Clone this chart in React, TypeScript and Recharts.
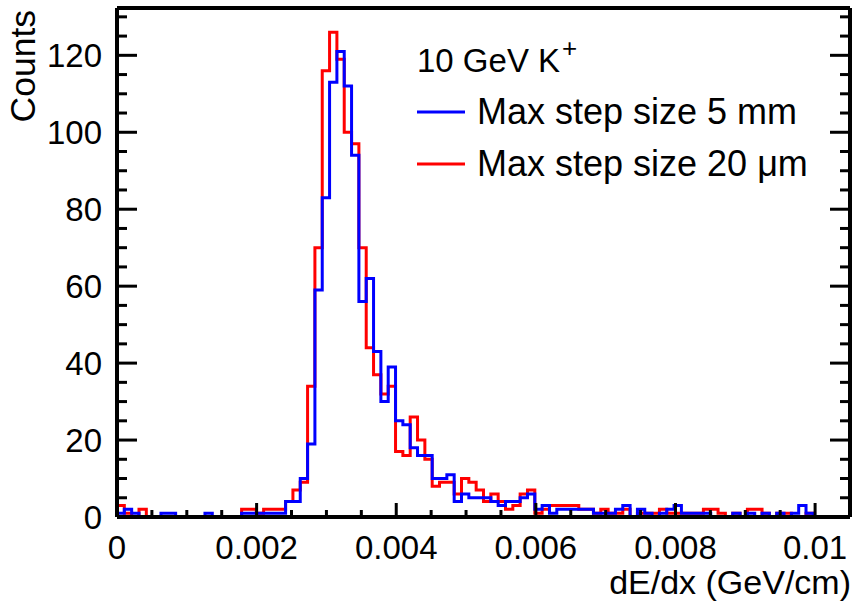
import { LineChart, Line, XAxis, YAxis } from "recharts";

const FONT = "'Liberation Sans', Arial, Helvetica, sans-serif";

// 100 bins of 0.000105 GeV/cm between 0 and 0.0105
const BIN_WIDTH = 0.000105;
const X_MAX = 0.0105;
const Y_MAX = 132.3;

const blueCounts = [
  1, 2, 1, 0, 0, 0, 1, 1, 0, 0,
  0, 0, 1, 0, 0, 0, 0, 1, 1, 1,
  1, 1, 1, 4, 4, 10, 19, 59, 83, 113,
  121, 112, 94, 56, 62, 43, 30, 39, 25, 24,
  18, 16, 16, 10, 10, 11, 4, 6, 5, 5,
  5, 4, 3, 4, 4, 5, 6, 2, 3, 1,
  2, 2, 2, 2, 2, 1, 1, 1, 2, 3,
  0, 2, 1, 0, 1, 2, 3, 1, 1, 1,
  1, 0, 0, 0, 1, 0, 1, 0, 1, 0,
  1, 0, 1, 3, 1, 0, 0, 0, 0, 0,
];

const redCounts = [
  3, 1, 0, 2, 0, 0, 0, 0, 0, 0,
  0, 0, 0, 0, 0, 0, 0, 2, 2, 1,
  2, 2, 2, 4, 7, 9, 34, 70, 116, 126,
  119, 100, 97, 70, 44, 37, 32, 34, 17, 16,
  26, 20, 15, 8, 9, 9, 6, 10, 9, 7,
  4, 6, 4, 2, 3, 6, 7, 1, 2, 3,
  3, 3, 3, 2, 2, 1, 2, 1, 1, 2,
  0, 1, 1, 1, 2, 1, 1, 1, 1, 1,
  2, 2, 1, 0, 1, 0, 2, 2, 1, 0,
  1, 1, 0, 0, 1, 0, 0, 0, 0, 0,
];

const xMajorTicks = [0, 0.002, 0.004, 0.006, 0.008, 0.01];
const xTickLabels = ["0", "0.002", "0.004", "0.006", "0.008", "0.01"];
const yMajorTicks = [0, 20, 40, 60, 80, 100, 120];
const yTickLabels = ["0", "20", "40", "60", "80", "100", "120"];

const xAllTicks = Array.from({ length: 21 }, (_, i) => +(i * 0.0005).toFixed(4));
const yAllTicks = Array.from({ length: 27 }, (_, i) => i * 5);

// step points at the lower edge of each bin, plus the closing edge
const data = blueCounts.map((b, i) => ({
  x: +(i * BIN_WIDTH).toFixed(6),
  blue: b,
  red: redCounts[i],
}));
data.push({ x: X_MAX, blue: blueCounts[99], red: redCounts[99] });

const majorIndex = (list: number[], v: number) =>
  list.findIndex((t) => Math.abs(t - v) < 1e-9);

function BottomTick({ x, y, payload }: any) {
  const i = majorIndex(xMajorTicks, payload.value);
  return (
    <g>
      <line x1={x} x2={x} y1={y} y2={y - (i >= 0 ? 14 : 7)} stroke="#000" strokeWidth={3} />
      {i >= 0 && (
        <text x={x} y={y + 42} textAnchor="middle" fontFamily={FONT} fontSize={33} fill="#000">
          {xTickLabels[i]}
        </text>
      )}
    </g>
  );
}

function TopTick({ x, y, payload }: any) {
  const i = majorIndex(xMajorTicks, payload.value);
  return <line x1={x} x2={x} y1={y} y2={y + (i >= 0 ? 14 : 7)} stroke="#000" strokeWidth={3} />;
}

function LeftTick({ x, y, payload }: any) {
  const i = majorIndex(yMajorTicks, payload.value);
  return (
    <g>
      <line x1={x} x2={x + (i >= 0 ? 20 : 10)} y1={y} y2={y} stroke="#000" strokeWidth={3} />
      {i >= 0 && (
        <text x={x - 15} y={y + 12} textAnchor="end" fontFamily={FONT} fontSize={33} fill="#000">
          {yTickLabels[i]}
        </text>
      )}
    </g>
  );
}

function RightTick({ x, y, payload }: any) {
  const i = majorIndex(yMajorTicks, payload.value);
  return <line x1={x} x2={x - (i >= 0 ? 20 : 10)} y1={y} y2={y} stroke="#000" strokeWidth={3} />;
}

const frame = { stroke: "#000", strokeWidth: 4 };

export default function App() {
  return (
    <div style={{ position: "absolute", left: 0, top: 0, width: 857, height: 603, background: "#fff" }}>
      <LineChart
        width={857}
        height={603}
        data={data}
        margin={{ top: 7, right: 6, bottom: 46, left: 67 }}
      >
        <XAxis
          dataKey="x"
          type="number"
          domain={[0, X_MAX]}
          allowDataOverflow
          ticks={xAllTicks}
          interval={0}
          height={40}
          tickSize={0}
          tickMargin={0}
          tickLine={false}
          axisLine={frame}
          tick={<BottomTick />}
        />
        <XAxis
          xAxisId="top"
          orientation="top"
          type="number"
          domain={[0, X_MAX]}
          allowDataOverflow
          ticks={xAllTicks}
          interval={0}
          height={1}
          tickSize={0}
          tickMargin={0}
          tickLine={false}
          axisLine={frame}
          tick={<TopTick />}
        />
        <YAxis
          type="number"
          domain={[0, Y_MAX]}
          allowDataOverflow
          ticks={yAllTicks}
          interval={0}
          width={50}
          tickSize={0}
          tickMargin={0}
          tickLine={false}
          axisLine={frame}
          tick={<LeftTick />}
        />
        <YAxis
          yAxisId="right"
          orientation="right"
          type="number"
          domain={[0, Y_MAX]}
          allowDataOverflow
          ticks={yAllTicks}
          interval={0}
          width={1}
          tickSize={0}
          tickMargin={0}
          tickLine={false}
          axisLine={frame}
          tick={<RightTick />}
        />
        <Line
          type="stepAfter"
          dataKey="red"
          stroke="#ff0000"
          strokeWidth={3}
          dot={false}
          isAnimationActive={false}
        />
        <Line
          type="stepAfter"
          dataKey="blue"
          stroke="#0000ff"
          strokeWidth={3}
          dot={false}
          isAnimationActive={false}
        />
      </LineChart>
      <svg
        width={857}
        height={603}
        style={{ position: "absolute", left: 0, top: 0, pointerEvents: "none" }}
        fontFamily={FONT}
      >
        <text x={35} y={10} transform="rotate(-90 35 10)" textAnchor="end" fontSize={35.5} fill="#000">
          Counts
        </text>
        <text x={851} y={594} textAnchor="end" fontSize={34} fill="#000">
          dE/dx (GeV/cm)
        </text>
        <text x={417} y={72} fontSize={33} fill="#000">
          10 GeV K<tspan dx={2} dy={-15} fontSize={26}>+</tspan>
        </text>
        <line x1={417} x2={465} y1={112} y2={112} stroke="#0000ff" strokeWidth={3} />
        <text x={477} y={124} fontSize={36} fill="#000">
          Max step size 5 mm
        </text>
        <line x1={417} x2={465} y1={164} y2={164} stroke="#ff0000" strokeWidth={3} />
        <text x={477} y={176} fontSize={36} fill="#000">
          Max step size 20 μm
        </text>
      </svg>
    </div>
  );
}
